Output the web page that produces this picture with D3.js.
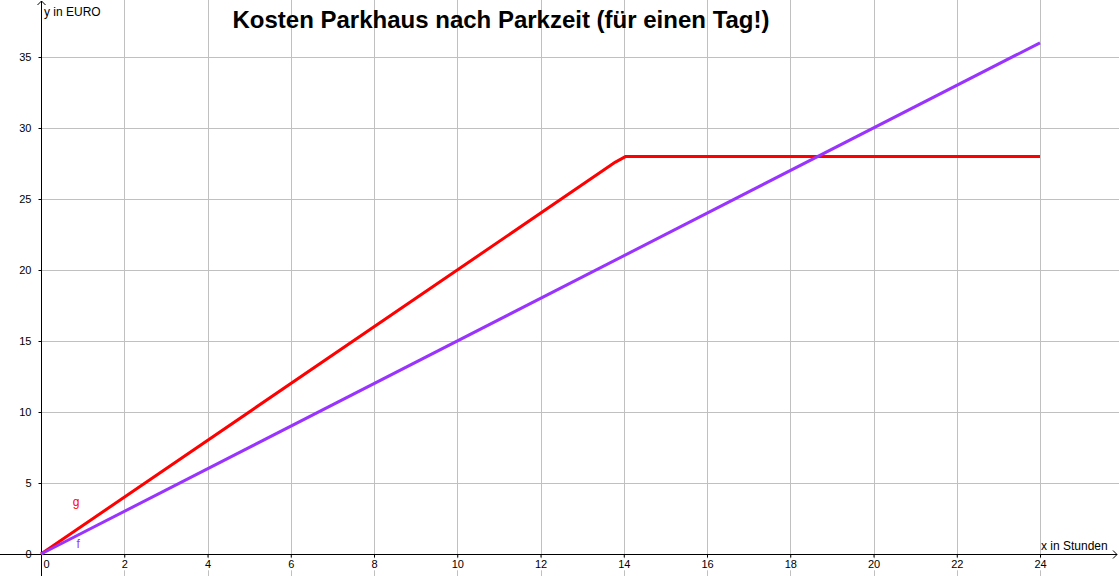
<!DOCTYPE html>
<html>
<head>
<meta charset="utf-8">
<script src="https://cdn.jsdelivr.net/npm/d3@7"></script>
<style>
  html, body { margin: 0; padding: 0; background: #fff; }
  svg { display: block; font-family: "Liberation Sans", Arial, sans-serif; }
</style>
</head>
<body>
<svg id="chart" width="1119" height="576"></svg>
<script>
// ---- data ----
const title = "Kosten Parkhaus nach Parkzeit (für einen Tag!)";
const xAxisLabel = "x in Stunden";
const yAxisLabel = "y in EURO";
const xTicks = [0, 2, 4, 6, 8, 10, 12, 14, 16, 18, 20, 22, 24];
const yTicks = [0, 5, 10, 15, 20, 25, 30, 35];
// g: Parkhaus-Tarif (2 €/h, max 28 €)
const gX = [0, 13.8, 14.05, 24];
const gY = [0, 27.6, 28, 28];
// f: 1.5 €/h
const fX = [0, 24];
const fY = [0, 36];
const seriesNames = ["g", "f"];
const seriesColors = ["#ff0000", "#9933ff"];

// ---- layout ----
const W = 1119, H = 576;
const svg = d3.select("#chart");
const x = d3.scaleLinear().domain([0, 24]).range([41, 1040]);
const y = d3.scaleLinear().domain([0, 35]).range([554, 57]);

// grid
const grid = svg.append("g").attr("stroke", "#c0c0c0").attr("stroke-width", 1).attr("shape-rendering", "crispEdges");
xTicks.filter(d => d !== 0).forEach(d => {
  grid.append("line").attr("x1", Math.round(x(d)) + 0.5).attr("x2", Math.round(x(d)) + 0.5)
    .attr("y1", 0).attr("y2", H);
});
yTicks.filter(d => d !== 0).forEach(d => {
  grid.append("line").attr("x1", x(0)).attr("x2", W)
    .attr("y1", Math.round(y(d)) + 0.5).attr("y2", Math.round(y(d)) + 0.5);
});

// axes with d3 axis generators (tick labels with white background)
const xAxisG = svg.append("g").attr("transform", `translate(0,${Math.round(y(0)) + 0.5})`)
  .call(d3.axisBottom(x).tickValues(xTicks).tickSize(3).tickSizeOuter(0).tickPadding(3));
xAxisG.select(".domain").remove();
xAxisG.selectAll(".tick line").attr("stroke", "#000");
xAxisG.selectAll(".tick text").attr("font-size", 11).attr("font-family", "Liberation Sans, Arial, sans-serif")
  .attr("fill", "#000")
  .attr("dx", d => d === 0 ? 5 : 0);
xAxisG.selectAll(".tick").each(function() {
  const t = d3.select(this).select("text");
  const bb = t.node().getBBox();
  d3.select(this).insert("rect", "text").attr("x", bb.x + (+t.attr("dx") || 0)).attr("y", bb.y).attr("width", bb.width).attr("height", bb.height).attr("fill", "#fff");
});

const yAxisG = svg.append("g").attr("transform", `translate(${Math.round(x(0)) + 0.5},0)`)
  .call(d3.axisLeft(y).tickValues(yTicks).tickSize(3).tickSizeOuter(0).tickPadding(7));
yAxisG.select(".domain").remove();
yAxisG.selectAll(".tick line").attr("stroke", "#000");
yAxisG.selectAll(".tick text").attr("font-size", 11).attr("font-family", "Liberation Sans, Arial, sans-serif").attr("fill", "#000");

// axis lines
const ax = svg.append("g").attr("stroke", "#000").attr("stroke-width", 1).attr("fill", "none");
const x0 = Math.round(x(0)) + 0.5, y0 = Math.round(y(0)) + 0.5;
ax.append("line").attr("x1", 0).attr("x2", W - 2).attr("y1", y0).attr("y2", y0);
ax.append("path").attr("d", `M${W - 6},${y0 - 4} L${W - 2},${y0} L${W - 6},${y0 + 4}`);
ax.append("line").attr("x1", x0).attr("x2", x0).attr("y1", 1).attr("y2", H);
ax.append("path").attr("d", `M${x0 - 4},${5} L${x0},${1} L${x0 + 4},${5}`);

svg.append("text").attr("x", 1041).attr("y", 550).attr("font-size", 12).attr("fill", "#000").text(xAxisLabel);
svg.append("text").attr("x", 44).attr("y", 16).attr("font-size", 12).attr("fill", "#000").text(yAxisLabel);

// series
const line = d3.line().x(d => x(d[0])).y(d => y(d[1]));
const series = [d3.zip(gX, gY), d3.zip(fX, fY)];
series.forEach((s, i) => {
  svg.append("path").datum(s).attr("d", line).attr("fill", "none")
    .attr("stroke", seriesColors[i]).attr("stroke-width", 3).attr("stroke-linejoin", "round");
});

// function labels
svg.append("text").attr("x", x(0.76)).attr("y", y(3.35)).attr("font-size", 12).attr("fill", seriesColors[0]).text(seriesNames[0]);
svg.append("text").attr("x", x(0.85)).attr("y", y(0.45)).attr("font-size", 12).attr("fill", seriesColors[1]).text(seriesNames[1]);

// title
svg.append("text").attr("x", 501).attr("y", 28).attr("text-anchor", "middle")
  .attr("font-size", 24).attr("font-weight", "bold").attr("fill", "#000").text(title);
</script>
</body>
</html>
